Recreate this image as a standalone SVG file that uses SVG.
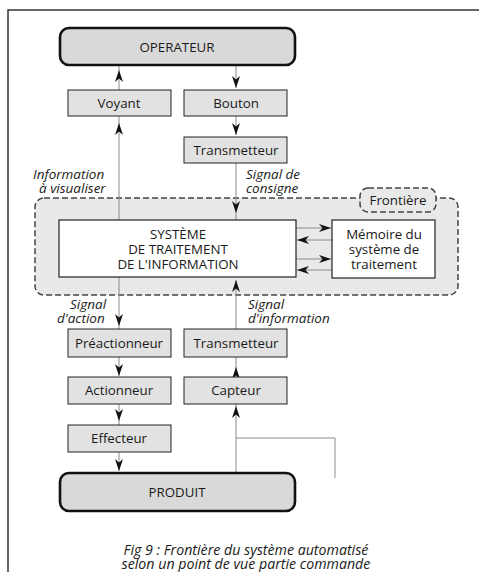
<svg xmlns="http://www.w3.org/2000/svg" width="479" height="572" viewBox="0 0 479 572">
<style>
text{font-family:"Open Sans","Liberation Sans",sans-serif;font-size:13.3px;fill:#1a1a1a;text-anchor:middle;dominant-baseline:central}
.it{font-style:italic;font-size:13.5px}
.cap{font-style:italic;font-size:14.2px}
.l{text-anchor:start}
.box{fill:#e2e2e2;stroke:#222;stroke-width:1}
.ext{fill:#d9d9d9;stroke:#111;stroke-width:2.6}
.wbox{fill:#fff;stroke:#222;stroke-width:1.2}
.ln{fill:none;stroke:#8a8a8a;stroke-width:1}
.fr{fill:#e9e9e9;stroke:#444;stroke-width:1.5;stroke-dasharray:6 3}
</style>
<defs>
<marker id="ah" markerUnits="userSpaceOnUse" viewBox="0 0 12 8" refX="12" refY="4" markerWidth="12" markerHeight="8" orient="auto">
<path d="M0,0 L12,4 L0,8 L3.5,4 Z" fill="#111"/>
</marker>
</defs>
<rect width="479" height="572" fill="#fff"/>
<path d="M8,572 V10 H479" fill="none" stroke="#333" stroke-width="1.5"/>

<g id="frontiere">
<rect class="fr" x="35" y="198" width="423" height="97" rx="9"/>
<rect class="fr" x="360" y="188" width="76" height="24" rx="8"/>
<text x="398" y="200">Frontière</text>
</g>

<g id="connectors">
<path class="ln" d="M119,90 V70" marker-end="url(#ah)"/><path class="ln" d="M119,70 V65"/>
<path class="ln" d="M236,65 V88" marker-end="url(#ah)"/>
<path class="ln" d="M236,116 V135" marker-end="url(#ah)"/>
<path class="ln" d="M119,220 V123" marker-end="url(#ah)"/><path class="ln" d="M119,123 V116"/>
<path class="ln" d="M236,163 V213" marker-end="url(#ah)"/><path class="ln" d="M236,213 V220"/>
<path class="ln" d="M296,228 H331" marker-end="url(#ah)"/>
<path class="ln" d="M332,240 H297" marker-end="url(#ah)"/>
<path class="ln" d="M296,259 H331" marker-end="url(#ah)"/>
<path class="ln" d="M332,270 H297" marker-end="url(#ah)"/>
<path class="ln" d="M119,277 V326" marker-end="url(#ah)"/><path class="ln" d="M119,326 V329"/>
<path class="ln" d="M236,329 V280" marker-end="url(#ah)"/>
<path class="ln" d="M119,357 V376" marker-end="url(#ah)"/>
<path class="ln" d="M236,377 V367" marker-end="url(#ah)"/><path class="ln" d="M236,367 V357"/>
<path class="ln" d="M119,404 V421" marker-end="url(#ah)"/><path class="ln" d="M119,421 V425"/>
<path class="ln" d="M119,452 V471" marker-end="url(#ah)"/>
<path class="ln" d="M236,473 V406" marker-end="url(#ah)"/><path class="ln" d="M236,406 V404"/>
<path class="ln" d="M236,438 H335 V478"/>
</g>

<g id="operateur"><rect class="ext" x="60" y="28" width="235" height="37" rx="9"/><text x="177" y="47">OPERATEUR</text></g>
<g id="voyant"><rect class="box" x="68" y="90" width="103" height="26"/><text x="119" y="103">Voyant</text></g>
<g id="bouton"><rect class="box" x="184" y="90" width="103" height="26"/><text x="236" y="103">Bouton</text></g>
<g id="transmetteur1"><rect class="box" x="184" y="137" width="103" height="26"/><text x="236" y="150">Transmetteur</text></g>

<g id="labels-top">
<text class="it l" x="33" y="174">Information</text>
<text class="it l" x="39" y="188">à visualiser</text>
<text class="it l" x="246" y="174">Signal de</text>
<text class="it l" x="246" y="188">consigne</text>
</g>

<g id="systeme"><rect class="wbox" x="59" y="220" width="237" height="57"/>
<text x="178" y="234">SYSTÈME</text><text x="178" y="249">DE TRAITEMENT</text><text x="178" y="264">DE L'INFORMATION</text></g>
<g id="memoire"><rect class="wbox" x="332" y="220" width="103" height="58"/>
<text x="384" y="234">Mémoire du</text><text x="384" y="249">système de</text><text x="384" y="264">traitement</text></g>

<g id="labels-mid">
<text class="it l" x="70" y="304">Signal</text>
<text class="it l" x="57" y="318">d'action</text>
<text class="it l" x="248" y="304">Signal</text>
<text class="it l" x="248" y="318">d'information</text>
</g>

<g id="preactionneur"><rect class="box" x="68" y="329" width="103" height="28"/><text x="119" y="343">Préactionneur</text></g>
<g id="transmetteur2"><rect class="box" x="184" y="329" width="103" height="28"/><text x="236" y="343">Transmetteur</text></g>
<g id="actionneur"><rect class="box" x="68" y="377" width="103" height="27"/><text x="119" y="390">Actionneur</text></g>
<g id="capteur"><rect class="box" x="184" y="377" width="103" height="27"/><text x="236" y="390">Capteur</text></g>
<g id="effecteur"><rect class="box" x="68" y="425" width="103" height="27"/><text x="119" y="438">Effecteur</text></g>
<g id="produit"><rect class="ext" x="60" y="473" width="235" height="38" rx="9"/><text x="177" y="492">PRODUIT</text></g>

<g id="caption">
<text class="cap" x="246" y="549">Fig 9 : Frontière du système automatisé</text>
<text class="cap" x="246" y="563">selon un point de vue partie commande</text>
</g>
</svg>
